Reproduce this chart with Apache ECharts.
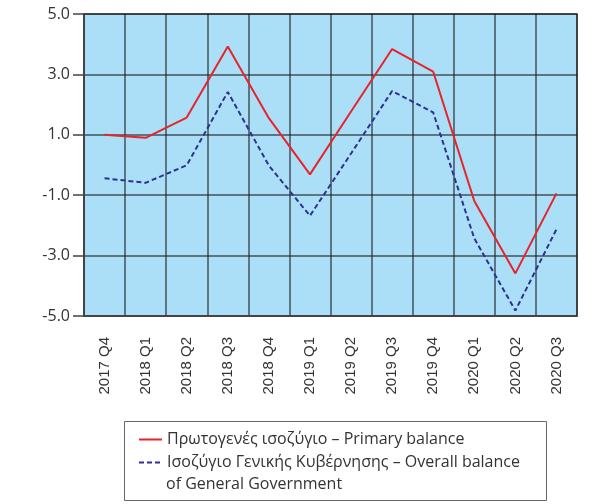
<!DOCTYPE html>
<html>
<head>
<meta charset="utf-8">
<script src="https://cdn.jsdelivr.net/npm/echarts@6/dist/echarts.min.js"></script>
<style>
  html, body { margin: 0; padding: 0; background: #fff; }
  #chart { width: 595px; height: 504px; }
</style>
</head>
<body>
<div id="chart"></div>
<script>
// quarters on the x axis
var quarters = ['2017 Q4', '2018 Q1', '2018 Q2', '2018 Q3', '2018 Q4', '2019 Q1',
                '2019 Q2', '2019 Q3', '2019 Q4', '2020 Q1', '2020 Q2', '2020 Q3'];
// Πρωτογενές ισοζύγιο – Primary balance
var primary = [1.0, 0.9, 1.57, 3.92, 1.55, -0.31, 1.77, 3.84, 3.09, -1.19, -3.59, -0.94];
// Ισοζύγιο Γενικής Κυβέρνησης – Overall balance
var overall = [-0.44, -0.59, -0.01, 2.42, -0.02, -1.68, 0.38, 2.45, 1.74, -2.43, -4.82, -2.13];

var primaryName = 'Πρωτογενές ισοζύγιο – Primary balance';
var overallName = 'Ισοζύγιο Γενικής Κυβέρνησης – Overall balance';

var myChart = echarts.init(document.getElementById('chart'));
var option = {
  animation: false,
  grid: {
    left: 84, right: 18, top: 14, bottom: 188,
    show: true,
    backgroundColor: '#abdff8',
    borderColor: '#4a4a4a',
    borderWidth: 1.5
  },
  xAxis: {
    type: 'category',
    data: quarters,
    boundaryGap: true,
    axisLine: { onZero: false, lineStyle: { color: '#444', width: 1.5 } },
    axisTick: { show: false },
    splitLine: { show: true, interval: 0, lineStyle: { color: 'rgba(30,30,30,0.55)', width: 2 } },
    axisLabel: {
      interval: 0, rotate: 90, margin: 21,
      fontFamily: 'Liberation Sans', fontSize: 15, color: '#333'
    }
  },
  yAxis: {
    type: 'value',
    min: -5, max: 5, interval: 2,
    axisLine: { show: true, lineStyle: { color: '#444', width: 1.5 } },
    axisTick: { show: true, length: 11, lineStyle: { color: '#444', width: 1.5 } },
    splitLine: { lineStyle: { color: 'rgba(30,30,30,0.55)', width: 2 } },
    axisLabel: {
      margin: 14, fontFamily: 'Open Sans', fontSize: 16, color: '#333',
      formatter: function (v) { return v.toFixed(1); }
    }
  },
  legend: {
    orient: 'vertical',
    left: 138, top: 431,
    padding: 0,
    itemWidth: 23, itemHeight: 14, itemGap: 6,
    itemStyle: { opacity: 0 },
    textStyle: { fontFamily: 'Open Sans', fontSize: 16, color: '#333', lineHeight: 17 },
    data: [primaryName, overallName]
  },
  graphic: [
    {
      type: 'rect', silent: true, z: -1,
      shape: { x: 124.5, y: 421.5, width: 422, height: 79 },
      style: { fill: '#fff', stroke: '#666', lineWidth: 1 }
    },
    {
      type: 'text', left: 166, top: 476,
      style: { text: 'of General Government', font: '16px "Open Sans"', fill: '#333' }
    }
  ],
  series: [
    {
      name: primaryName, type: 'line', data: primary,
      symbol: 'none',
      lineStyle: { color: '#e8232a', width: 2 },
      itemStyle: { color: '#e8232a' }
    },
    {
      name: overallName, type: 'line', data: overall,
      symbol: 'none',
      lineStyle: { color: '#2e3192', width: 2, type: [5, 3] },
      itemStyle: { color: '#2e3192' }
    }
  ]
};
myChart.setOption(option);
</script>
</body>
</html>
